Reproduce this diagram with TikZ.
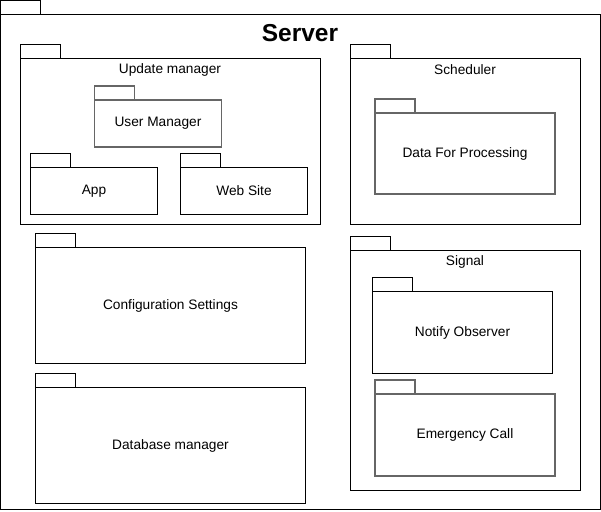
\documentclass[tikz,border=0pt]{standalone}
\usepackage{fontspec}
\setmainfont{Liberation Sans}
\begin{document}
\begin{tikzpicture}[x=1pt,y=-1pt,
  pkgbody/.style={draw=black,line width=1pt,fill=white,anchor=north west,inner sep=0pt,outer sep=0pt},
  pkgtab/.style={draw=black,line width=1pt,fill=white,anchor=south west,inner sep=0pt,outer sep=0pt,minimum width=40pt,minimum height=14pt},
  graypkg/.style={draw=black!60,line width=1.5pt},
  lbl/.style={font=\fontsize{13.7}{16}\selectfont,inner sep=0pt},
  title/.style={font=\fontsize{24.5}{28}\selectfont\bfseries,inner sep=0pt}]
\useasboundingbox (0,0) rectangle (601,511);
% Server
\node[pkgbody,minimum width=600pt,minimum height=495pt] (server) at (0.5,14.5) {};
\node[pkgtab] (servertab) at (server.north west) {};
\node[title] (servertxt) at (300,33) {Server};
% Update manager
\node[pkgbody,minimum width=300pt,minimum height=166pt] (upd) at (20.5,58.5) {};
\node[pkgtab] (updtab) at (upd.north west) {};
\node[lbl] (updtxt) at (170,70) {Update manager};
\node[pkgbody,graypkg,minimum width=127pt,minimum height=47pt] (user) at (94.5,100) {};
\node[pkgtab,graypkg] (usertab) at (user.north west) {};
\node[lbl] (usertxt) at (user.center) {User Manager};
\node[pkgbody,minimum width=127pt,minimum height=47pt] (app) at (30.5,167.5) {};
\node[pkgtab] (apptab) at (app.north west) {};
\node[lbl] (apptxt) at (app.center) {App};
\node[pkgbody,minimum width=127pt,minimum height=47pt] (web) at (180.5,167.5) {};
\node[pkgtab] (webtab) at (web.north west) {};
\node[lbl] (webtxt) at (web.center) {Web Site};
% Scheduler
\node[pkgbody,minimum width=230pt,minimum height=166pt] (sched) at (350.5,58.5) {};
\node[pkgtab] (schedtab) at (sched.north west) {};
\node[lbl] (schedtxt) at (465,70) {Scheduler};
\node[pkgbody,graypkg,minimum width=180pt,minimum height=81pt] (data) at (375,113) {};
\node[pkgtab,graypkg] (datatab) at (data.north west) {};
\node[lbl] (datatxt) at (data.center) {Data For Processing};
% Configuration / Database
\node[pkgbody,minimum width=270pt,minimum height=116pt] (conf) at (35.5,247.5) {};
\node[pkgtab] (conftab) at (conf.north west) {};
\node[lbl] (conftxt) at (conf.center) {Configuration Settings};
\node[pkgbody,minimum width=270pt,minimum height=116pt] (db) at (35.5,387.5) {};
\node[pkgtab] (dbtab) at (db.north west) {};
\node[lbl] (dbtxt) at (db.center) {Database manager};
% Signal
\node[pkgbody,minimum width=230pt,minimum height=240pt] (sig) at (350.5,250.5) {};
\node[pkgtab] (sigtab) at (sig.north west) {};
\node[lbl] (sigtxt) at (465,262) {Signal};
\node[pkgbody,minimum width=180pt,minimum height=82pt] (notify) at (372.5,291.5) {};
\node[pkgtab] (notifytab) at (notify.north west) {};
\node[lbl] (notifytxt) at (notify.center) {Notify Observer};
\node[pkgbody,graypkg,minimum width=180pt,minimum height=82pt] (emerg) at (375,394) {};
\node[pkgtab,graypkg] (emergtab) at (emerg.north west) {};
\node[lbl] (emergtxt) at (emerg.center) {Emergency Call};
\end{tikzpicture}
\end{document}
